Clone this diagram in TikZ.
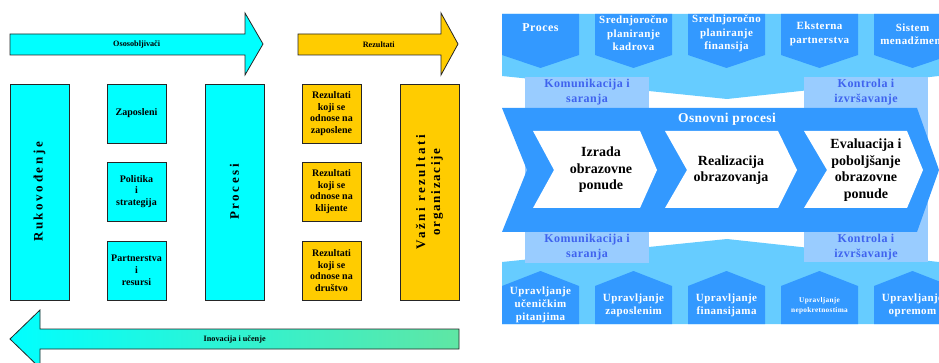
\documentclass[tikz,border=0pt]{standalone}
\usepackage{fontspec}
\setmainfont{Liberation Serif}
\definecolor{cyanc}{HTML}{00FFFF}
\definecolor{yelc}{HTML}{FFCC00}
\definecolor{greenc}{HTML}{88E27E}
\definecolor{tealc}{HTML}{5FE6A4}
\definecolor{dblue}{HTML}{3399FF}
\definecolor{lband}{HTML}{66CCFF}
\definecolor{lbox}{HTML}{99CCFF}
\definecolor{btextc}{HTML}{3F63EE}
\newcommand\vtextfont{\bfseries\fontsize{13}{15}\selectfont\addfontfeature{LetterSpace=20}}
\newcommand\boxfont{\bfseries\fontsize{10}{11.8}\selectfont}
\newcommand\arrfont{\bfseries\fontsize{8.2}{10}\selectfont}
\begin{document}
\begin{tikzpicture}[x=1pt,y=-1pt,
  cyanbox/.style={draw=black!85, line width=0.8pt, fill=cyanc, inner sep=0pt, align=center, font=\boxfont},
  yelbox/.style={draw=black!85, line width=0.8pt, fill=yelc, inner sep=0pt, align=center, font=\boxfont},
  smallbox/.style={minimum width=59pt, minimum height=59pt},
  tallbox/.style={rotate=90, minimum width=216pt, minimum height=59pt, font=\vtextfont},
  blockarrow/.style={draw=black!85, line width=0.8pt},
  arrlabel/.style={font=\arrfont, inner sep=0pt},
  wtext/.style={text=white, font=\bfseries\fontsize{11}{13.5}\selectfont\addfontfeature{LetterSpace=4}, align=center, inner sep=0pt},
  btext/.style={text=btextc, font=\bfseries\fontsize{12}{15}\selectfont\addfontfeature{LetterSpace=4}, align=center, inner sep=0pt},
  ktext/.style={text=black, font=\bfseries\fontsize{14}{16.5}\selectfont, align=center, inner sep=0pt},
  pent/.style={fill=dblue},
]
\useasboundingbox (0,0) rectangle (939,363);
\clip (0,0) rectangle (939,363);
\fill[white] (0,0) rectangle (939,363);

% ---------------- left part ----------------
\draw[blockarrow, fill=cyanc] (10,34) -- (245,34) -- (245,13) -- (263,44) -- (245,75) -- (245,55) -- (10,55) -- cycle;
\node[arrlabel] (osp) at (136.7,44.5) {Ososobljivači};
\draw[blockarrow, fill=yelc] (298,34) -- (441,34) -- (441,13) -- (458,44) -- (441,75) -- (441,55) -- (298,55) -- cycle;
\node[arrlabel] (rez) at (378.7,44.5) {Rezultati};

\shade[left color=cyanc, middle color=greenc, right color=tealc] (459,329) -- (40,329) -- (40,310) -- (10,339) -- (40,368) -- (40,349) -- (459,349) -- cycle;
\draw[blockarrow] (459,329) -- (40,329) -- (40,310) -- (10,339) -- (40,368) -- (40,349) -- (459,349) -- cycle;
\node[arrlabel] (inov) at (234.7,339.5) {Inovacija i učenje};

\node[cyanbox, tallbox] (ruk) at (39.5,192) {Rukovođenje};
\node[cyanbox, smallbox] (zap) at (136.5,113.5) {Zaposleni};
\node[cyanbox, smallbox] (pol) at (136.5,191.5) {Politika\\i\\strategija};
\node[cyanbox, smallbox] (par) at (136.5,270.5) {Partnerstva\\i\\resursi};
\node[cyanbox, tallbox] (proc) at (234.5,192) {Procesi};
\node[yelbox, smallbox] (rz) at (331.5,113.5) {Rezultati\\koji se\\odnose na\\zaposlene};
\node[yelbox, smallbox] (rk) at (331.5,191.5) {Rezultati\\koji se\\odnose na\\klijente};
\node[yelbox, smallbox] (rd) at (331.5,270.5) {Rezultati\\koji se\\odnose na\\društvo};
\node[yelbox, tallbox] (vaz) at (429.5,192) {Važni rezultati\\{\addfontfeature{LetterSpace=13}organizacije}};

% ---------------- right part ----------------
\fill[lband] (502,14) -- (939,14) -- (939,76) -- (727,99) -- (502,76) -- cycle;
\fill[lband] (502,262) -- (727,239) -- (939,262) -- (939,324) -- (502,324) -- cycle;
\fill[lbox] (525,77) rectangle (649,263);
\fill[lbox] (804,77) rectangle (928,262);

\fill[dblue] (502,108) -- (917,108) -- (939,170) -- (917,232) -- (502,232) -- (527,170) -- cycle;
\fill[white] (533,131) -- (640,131) -- (657,170) -- (640,208) -- (533,208) -- (554,170) -- cycle;
\fill[white] (665,131) -- (778,131) -- (797,170) -- (778,208) -- (665,208) -- (687,170) -- cycle;
\fill[white] (804,131) -- (907,131) -- (923,170) -- (907,208) -- (804,208) -- (827,170) -- cycle;

\foreach \xx in {502,595,688,781,874} {
  \fill[pent] (\xx,14) -- ({\xx+77},14) -- ({\xx+77},55) -- ({\xx+38.5},68) -- (\xx,55) -- cycle;
  \fill[pent] (\xx,324) -- (\xx,286) -- ({\xx+38.5},271) -- ({\xx+77},286) -- ({\xx+77},324) -- cycle;
}

\node[wtext, font=\bfseries\fontsize{12}{14}\selectfont\addfontfeature{LetterSpace=4}] (t1) at (540.5,28) {Proces};
\node[wtext] (t2) at (633.5,33.5) {Srednjoročno\\planiranje\\kadrova};
\node[wtext] (t3) at (726.5,33.5) {Srednjoročno\\planiranje\\finansija};
\node[wtext] (t4) at (819.5,34) {Eksterna\\partnerstva};
\node[wtext] (t5) at (912.5,34) {Sistem\\menadžment};

\node[btext] (kom1) at (587,92) {Komunikacija i\\saranja};
\node[btext] (kon1) at (866,92) {Kontrola i\\izvršavanje};
\node[btext] (kom2) at (587,247) {Komunikacija i\\saranja};
\node[btext] (kon2) at (866,247) {Kontrola i\\izvršavanje};

\node[wtext, font=\bfseries\fontsize{13.5}{16}\selectfont\addfontfeature{LetterSpace=3}] (osn) at (727,119) {Osnovni procesi};

\node[ktext] (c1) at (601,170) {Izrada\\obrazovne\\ponude};
\node[ktext] (c2) at (731,170) {Realizacija\\obrazovanja};
\node[ktext] (c3) at (866,170) {Evaluacija i\\poboljšanje\\obrazovne\\ponude};

\node[wtext, font=\bfseries\fontsize{11}{13}\selectfont\addfontfeature{LetterSpace=4}] (b1) at (540.5,305) {Upravljanje\\učeničkim\\pitanjima};
\node[wtext, font=\bfseries\fontsize{11}{13}\selectfont\addfontfeature{LetterSpace=4}] (b2) at (633.5,305) {Upravljanje\\zaposlenim};
\node[wtext, font=\bfseries\fontsize{11}{13}\selectfont\addfontfeature{LetterSpace=4}] (b3) at (726.5,305) {Upravljanje\\finansijama};
\node[wtext, font=\bfseries\fontsize{7.3}{10}\selectfont\addfontfeature{LetterSpace=4}] (b4) at (819.5,305.5) {Upravljanje\\nepokretnostima};
\node[wtext, font=\bfseries\fontsize{11}{13}\selectfont\addfontfeature{LetterSpace=4}] (b5) at (912.5,305) {Upravljanje\\opremom};
\end{tikzpicture}
\end{document}
